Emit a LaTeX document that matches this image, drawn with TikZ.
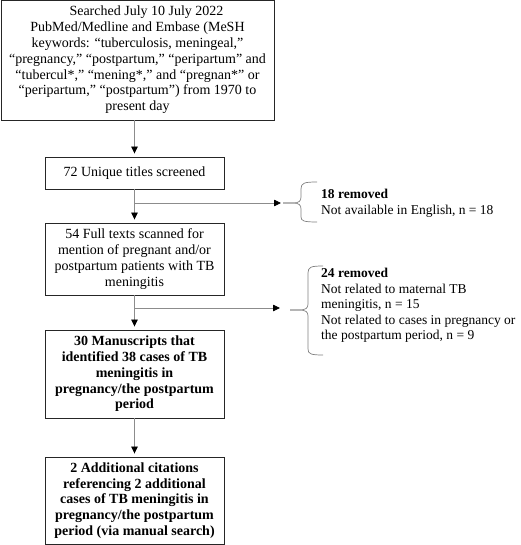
\documentclass[tikz,border=0pt]{standalone}
\usepackage{fontspec}
\setmainfont{Liberation Serif}
\usetikzlibrary{arrows.meta}
\begin{document}
\begin{tikzpicture}[x=1pt,y=-1pt,
  box/.style={draw=black!85,line width=0.9pt,inner sep=0pt,align=center,
    font=\fontsize{14}{15.8}\selectfont},
  side/.style={inner sep=0pt,align=left,anchor=north west,
    font=\fontsize{13.5}{15.6}\selectfont},
  conn/.style={draw=black!45,line width=0.8pt},
  arr/.style={conn,-{Triangle[color=black,width=6.5pt,length=7pt]},shorten >=3pt},
  brc/.style={draw=black!50,line width=0.7pt}]
\useasboundingbox (0,0) rectangle (520,545);
\node[box,minimum width=273pt,minimum height=120pt] (b1) at (137.5,60)
  {\hspace*{18pt}Searched July 10 July 2022\\
   PubMed/Medline and Embase (MeSH\\
   keywords: “tuberculosis, meningeal,”\\
   “pregnancy,” “postpartum,” “peripartum” and\\
   “tubercul*,” “mening*,” and “pregnan*” or\\
   “peripartum,” “postpartum”) from 1970 to\\
   present day};
\node[box,minimum width=179pt,minimum height=32pt] (b2) at (134.5,173)
  {72 Unique titles screened};
\node[box,minimum width=179pt,minimum height=72pt] (b3) at (134.5,259)
  {54 Full texts scanned for\\ mention of pregnant and/or\\ postpartum patients with TB\\ meningitis};
\node[box,minimum width=179pt,minimum height=88pt,font=\fontsize{14}{15.8}\selectfont\bfseries] (b4) at (134.5,374)
  {30 Manuscripts that\\ identified 38 cases of TB\\ meningitis in\\ pregnancy/the postpartum\\ period};
\node[box,minimum width=179pt,minimum height=87pt,font=\fontsize{14}{15.8}\selectfont\bfseries] (b5) at (134.5,500.5)
  {2 Additional citations\\ referencing 2 additional\\ cases of TB meningitis in\\ pregnancy/the postpartum\\ period (via manual search)};
% side texts
\node[side] (r1) at (321,189) {\textbf{18 removed}\\ Not available in English, n = 18};
\node[side] (r2) at (321,268) {\textbf{24 removed}\\ Not related to maternal TB\\ meningitis, n = 15\\ Not related to cases in pregnancy or\\ the postpartum period, n = 9};
% braces
\coordinate (t1) at (283,203);
\coordinate (t2) at (290,310);
\draw[brc] (317,182) .. controls (304,182) and (301,183) .. (301,189) -- (301,197)
  .. controls (301,201) and (299,203) .. (293,203) -- (t1);
\draw[brc] (t1) -- (293,203) .. controls (299,203) and (301,205) .. (301,209) -- (301,217)
  .. controls (301,221) and (304,222) .. (317,222);
\draw[brc] (323,266) .. controls (311,266) and (308,267) .. (308,273) -- (308,304)
  .. controls (308,308) and (306,310) .. (299,310) -- (t2);
\draw[brc] (t2) -- (299,310) .. controls (306,310) and (308,312) .. (308,316) -- (308,349)
  .. controls (308,354) and (311,355) .. (323,355);
% connectors
\coordinate (j1) at (b2.south |- t1);
\coordinate (j2) at (b3.south |- 0,308);
\draw[arr] (b1.south -| b2) -- (b2.north);
\draw[arr] (b2.south) -- (b3.north);
\draw[arr] (b3.south) -- (b4.north);
\draw[arr] (b4.south) -- (b5.north);
\draw[arr,shorten >=2pt] (j1) -- (t1);
\draw[arr,shorten >=10pt] (j2) -- (t2 |- j2);
\end{tikzpicture}
\end{document}
